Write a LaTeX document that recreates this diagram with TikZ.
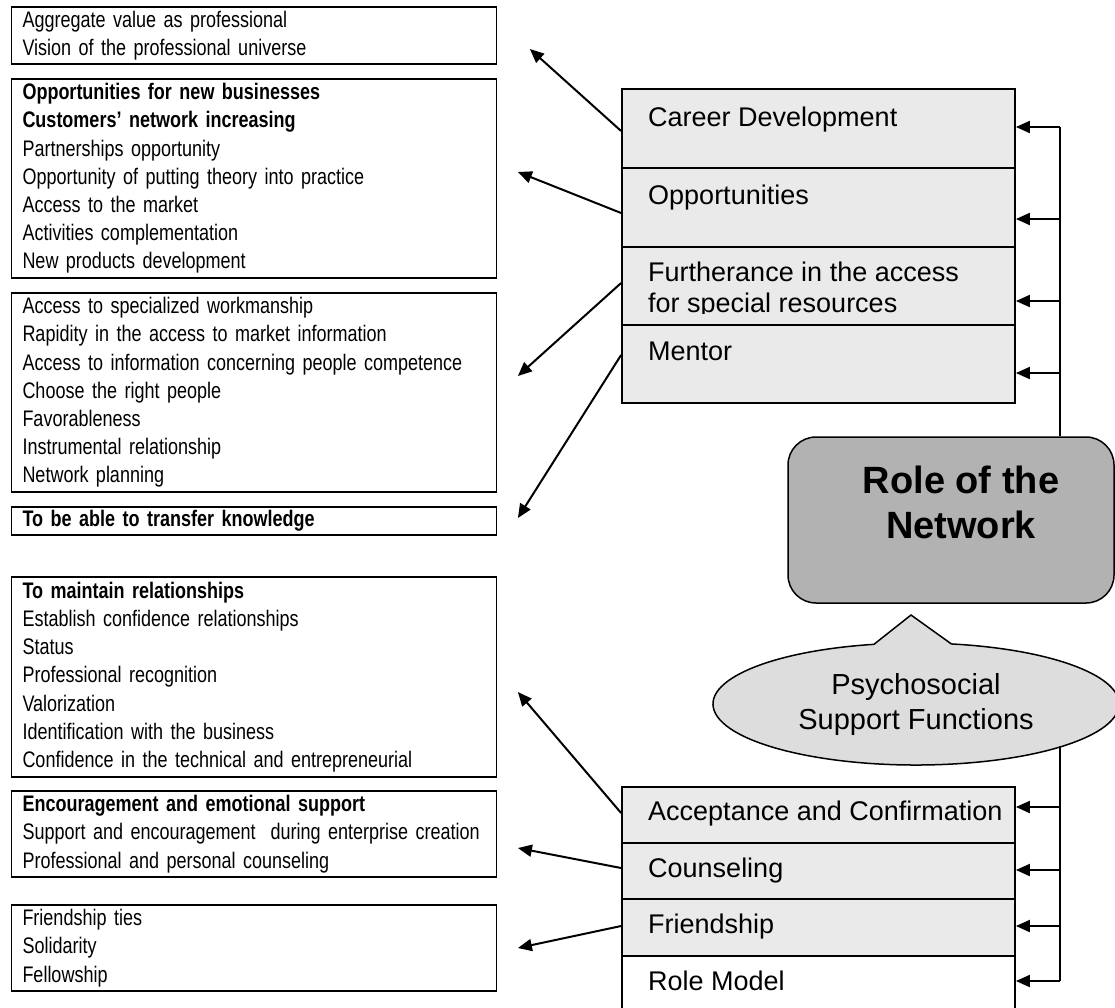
\documentclass[tikz,border=0pt]{standalone}
\usepackage{xcolor}
\usepackage{fontspec}
\setmainfont{Liberation Sans}
\newfontfamily\narrowfont[FakeStretch=0.80]{Liberation Sans}
\usepackage{tikz}
\usetikzlibrary{shapes.geometric, shapes.callouts, arrows.meta, positioning, calc}
\definecolor{fngray}{HTML}{EAEAEA}
\definecolor{rolegray}{HTML}{B2B2B2}
\definecolor{psygray}{HTML}{DDDDDD}

\begin{document}
\begin{tikzpicture}[x=1pt, y=-1pt,
    infobox/.style={draw, line width=1.8pt, minimum width=485pt, text width=463pt, inner xsep=11pt, inner ysep=2pt, align=left, font={\narrowfont\fontsize{22.5}{28.2}\selectfont\hyphenpenalty=10000}},
    fnbox/.style={draw, line width=1.8pt, fill=fngray, minimum width=393pt},
    fnlabel/.style={inner sep=0pt, anchor=base west, font={\fontsize{27}{31}\selectfont}},
    pointer/.style={line width=2pt, -{Triangle[length=14pt,width=12pt]}},
    bus/.style={line width=1.6pt}
]
    \useasboundingbox (0,0) rectangle (1115,1007);
    \clip (0,0) rectangle (1115,1007);

    \node[infobox, minimum height=57pt] (valueBox) at (254,35.5) {Aggregate value as professional\\Vision of the professional universe};
    \node[infobox, minimum height=199pt] (oppBox) at (254,178.5) {\textbf{Opportunities for new businesses}\\\textbf{Customers’ network increasing}\\Partnerships opportunity\\Opportunity of putting theory into practice\\Access to the market\\Activities complementation\\New products development};
    \node[infobox, minimum height=199pt] (resBox) at (254,392.5) {Access to specialized workmanship\\Rapidity in the access to market information\\Access to information concerning people competence\\Choose the right people\\Favorableness\\Instrumental relationship\\Network planning};
    \node[infobox, minimum height=28pt] (knowBox) at (254,521) {\textbf{To be able to transfer knowledge}};
    \node[infobox, minimum height=200pt] (relBox) at (254,677) {\textbf{To maintain relationships}\\Establish confidence relationships\\Status\\Professional recognition\\Valorization\\Identification with the business\\Confidence in the technical and entrepreneurial};
    \node[infobox, minimum height=86pt] (encBox) at (254,834) {\textbf{Encouragement and emotional support}\\Support and encouragement~ during enterprise creation\\Professional and personal counseling};
    \node[infobox, minimum height=86pt] (friendBox) at (254,948) {Friendship ties\\Solidarity\\Fellowship};

    \node[fnbox, minimum height=79pt] (careerFn) at (818.5,128.5) {};
    \node[fnbox, minimum height=79pt] (oppFn) at (818.5,207.5) {};
    \node[fnbox, minimum height=78pt] (resFn) at (818.5,286) {};
    \node[fnlabel] (careerTx) at (648,126) {Career Development};
    \node[fnlabel] (oppTx) at (648,204) {Opportunities};
    \begin{scope}
        \clip (622,247) rectangle (1015,313.5);
        \node[fnlabel, anchor=north west, align=left] (resTx) at (648,262) {Furtherance in the access\\for special resources};
    \end{scope}
    \node[fnbox, minimum height=78pt] (mentorFn) at (818.5,364) {};
    \node[fnlabel] (mentorTx) at (648,360) {Mentor};

    \node[draw, line width=1.5pt, fill=rolegray, rounded corners=28pt, minimum width=326pt, minimum height=166pt] (role) at (951,520) {};
    \node[font={\bfseries\fontsize{38}{45}\selectfont}, align=center, inner sep=0pt] (roleTx) at (961,502) {Role of the\\Network};

    \node[ellipse callout, draw, line width=1.5pt, fill=psygray, minimum width=406pt, minimum height=122pt, callout absolute pointer={(911,615)}, callout pointer arc=22, align=center, inner sep=0pt, font={\fontsize{29}{35}\selectfont}] (psyche) at (916,704) {Psychosocial\\Support Functions};

    \node[fnbox, minimum height=56pt] (acceptFn) at (818.5,815) {};
    \node[fnbox, minimum height=56pt] (counselFn) at (818.5,871) {};
    \node[fnbox, minimum height=57pt] (friendFn) at (818.5,927.5) {};
    \node[fnbox, fill=white, minimum height=74pt] (modelFn) at (818.5,993) {};
    \node[fnlabel] (acceptTx) at (648,820) {Acceptance and Confirmation};
    \node[fnlabel] (counselTx) at (648,877) {Counseling};
    \node[fnlabel] (friendTx) at (648,933) {Friendship};
    \node[fnlabel] (modelTx) at (648,990) {Role Model};

    \coordinate (busTop) at (1060,127);
    \draw[bus] (busTop) -- (busTop |- role.north);
    \draw[pointer] (busTop) -- (busTop -| careerFn.east);
    \foreach \y/\fn in {219/oppFn, 301/resFn, 373/mentorFn} {
        \coordinate (tap) at (1060,\y);
        \draw[pointer] (tap) -- (tap -| \fn.east);
    }

    \coordinate (busUp) at (1060,746);
    \coordinate (busLow) at (1060,981);
    \draw[bus] (busUp) -- (busLow);
    \foreach \y/\fn in {807/acceptFn, 870/counselFn, 926/friendFn, 981/modelFn} {
        \coordinate (tap) at (1060,\y);
        \draw[pointer] (tap) -- (tap -| \fn.east);
    }

    \draw[pointer] ($(careerFn.west)+(0,2.5)$) -- ($(valueBox.east)+(32.5,13.5)$);
    \draw[pointer] ($(oppFn.west)+(0,5.5)$) -- ($(oppBox.east)+(20.5,-6.5)$);
    \draw[pointer] ($(resFn.west)+(0,-3)$) -- ($(resBox.east)+(20.5,-16.5)$);
    \draw[pointer] ($(mentorFn.west)+(0,-9)$) -- ($(knowBox.east)+(20.5,-3)$);
    \draw[pointer] ($(acceptFn.west)+(0,-2)$) -- ($(relBox.east)+(20.5,15)$);
    \draw[pointer] ($(counselFn.west)+(0,-3)$) -- ($(encBox.east)+(20.5,14)$);
    \draw[pointer] ($(friendFn.west)+(0,-1.5)$) -- ($(friendBox.east)+(20.5,0)$);
\end{tikzpicture}
\end{document}
